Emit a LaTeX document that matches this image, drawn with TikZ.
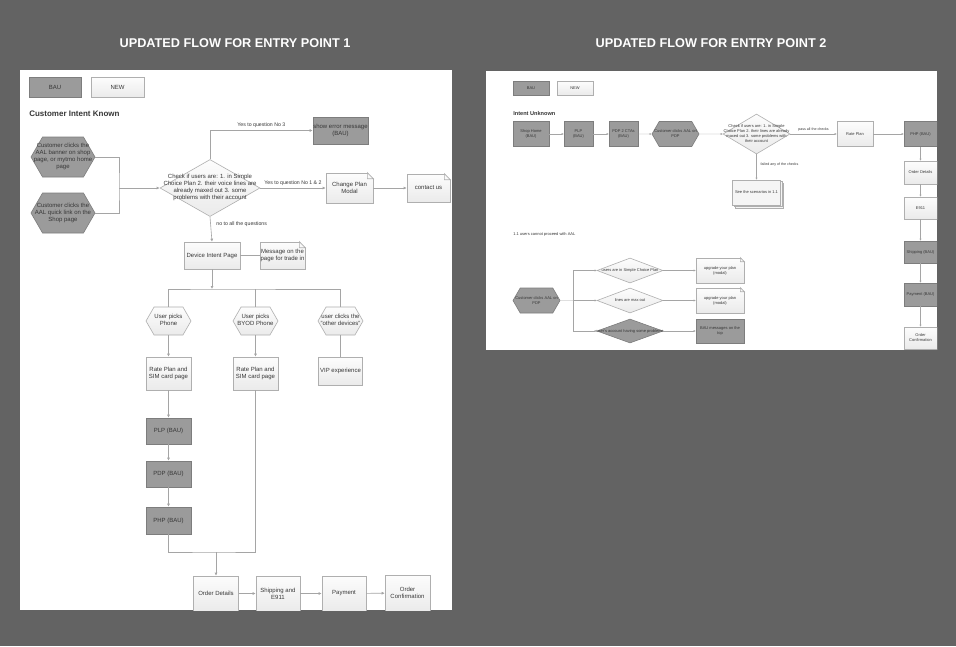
\documentclass[tikz,border=0pt]{standalone}
\usepackage{fontspec}
\setmainfont{Liberation Sans}
\usetikzlibrary{arrows.meta,shapes.geometric,shapes.symbols,shadows}
\definecolor{backc}{RGB}{99,99,99}
\definecolor{baufill}{RGB}{155,155,155}
\definecolor{baudraw}{RGB}{125,125,125}
\definecolor{newdraw}{RGB}{175,175,175}
\definecolor{linec}{RGB}{165,165,165}
\definecolor{textc}{RGB}{55,55,55}
\newcommand\wide[1]{\makebox[0pt]{\begin{tabular}{@{}c@{}}#1\end{tabular}}}
\newcommand\dogear[2]{%
  \fill[white] ([xshift=-#2,yshift=0.5pt]#1.north east) -- ([xshift=0.5pt,yshift=0.5pt]#1.north east) -- ([xshift=0.5pt,yshift=-#2]#1.north east) -- cycle;
  \draw[newdraw, fill=gray!5] ([xshift=-#2]#1.north east) -- ([xshift=-#2,yshift=-#2]#1.north east) -- ([yshift=-#2]#1.north east) -- cycle;}
\begin{document}
\begin{tikzpicture}[x=1pt, y=-1pt, line width=0.6pt,
  every node/.style={text=textc, align=center, inner sep=0pt},
  lf/.style={font=\fontsize{6}{7}\selectfont},
  rf/.style={font=\fontsize{4}{5}\selectfont},
  lbl/.style={font=\fontsize{5.2}{6}\selectfont},
  rlbl/.style={font=\fontsize{3.6}{4.5}\selectfont},
  sz/.style 2 args={minimum width=#1pt, minimum height=#2pt},
  bau/.style={draw=baudraw, fill=baufill},
  new/.style={draw=newdraw, top color=gray!2, bottom color=gray!16},
  hexa/.style={signal, signal to=east and west, signal pointer angle=120},
  ln/.style={draw=linec},
  arr/.style={draw=linec, -{Latex[length=3pt,width=3pt]}},
  rln/.style={draw=linec, line width=0.4pt},
  rarr/.style={draw=linec, line width=0.4pt, -{Latex[length=2pt,width=2pt]}}]
  \fill[backc] (0,0) rectangle (956,646);
  \fill[white] (20,70) rectangle (452,610);
  \fill[white] (486,71) rectangle (937,350);
  \node[font=\bfseries\fontsize{12.7}{14}\selectfont, text=white] (title1) at (235,43) {UPDATED FLOW FOR ENTRY POINT 1};
  \node[font=\bfseries\fontsize{12.7}{14}\selectfont, text=white] (title2) at (711,43) {UPDATED FLOW FOR ENTRY POINT 2};

  \begin{scope}[lf]
  \clip (20,70) rectangle (452,610);
  \node[bau, sz={52}{20}] (lbau) at (55,87) {BAU};
  \node[new, sz={53}{20}] (lnew) at (117.5,87) {NEW};
  \node[anchor=west, font=\bfseries\fontsize{8}{9}\selectfont] (lhead) at (29,114) {Customer Intent Known};
  \node[hexa, bau, sz={64}{40}] (aal1) at (63,157) {\wide{Customer clicks the\\AAL banner on shop\\page, or mytmo home\\page}};
  \node[hexa, bau, sz={64}{40}] (aal2) at (63,213) {\wide{Customer clicks the\\AAL quick link on the\\Shop page}};
  \coordinate (join1) at (119,188);
  \node[diamond, new, sz={100}{57}] (check) at (210,188) {\wide{Check if users are: 1. in Simple\\Choice Plan 2. their voice lines are\\already maxed out 3. some\\problems with their account}};
  \node[bau, sz={55}{27}] (err) at (340.5,130.5) {show error message\\(BAU)};
  \node[new, sz={47}{30}] (modal) at (349.5,188) {Change Plan\\Modal};
  \node[new, sz={43}{28}] (contact) at (428.5,188) {contact us};
  \node[new, sz={56}{27}] (intent) at (212,255.5) {Device Intent Page};
  \node[new, sz={45}{27}] (trade) at (282.5,255.5) {Message on the\\page for trade in};
  \dogear{modal}{6pt}
  \dogear{contact}{6pt}
  \dogear{trade}{6pt}
  \coordinate (split) at (212,289);
  \node[hexa, new, sz={45}{28}] (phone) at (168.5,321) {\wide{User picks\\Phone}};
  \node[hexa, new, sz={45}{28}] (byod) at (255.5,321) {\wide{User picks\\BYOD Phone}};
  \node[hexa, new, sz={45}{28}] (other) at (340.5,321) {\wide{user clicks the\\"other devices"}};
  \node[new, sz={45}{33}] (rate1) at (168.5,373.5) {Rate Plan and\\SIM card page};
  \node[new, sz={45}{33}] (rate2) at (255.5,373.5) {Rate Plan and\\SIM card page};
  \node[new, sz={44}{28}] (vip) at (340.5,371) {VIP experience};
  \node[bau, sz={45}{26}] (plp) at (168.5,431) {PLP (BAU)};
  \node[bau, sz={45}{26}] (pdp) at (168.5,474) {PDP (BAU)};
  \node[bau, sz={45}{27}] (php) at (168.5,520.5) {PHP (BAU)};
  \coordinate (merge) at (216,552);
  \node[new, sz={45}{35}] (details) at (216,593.5) {Order Details};
  \node[new, sz={44}{35}] (ship) at (278,593.5) {Shipping and\\E911};
  \node[new, sz={44}{35}] (pay) at (344,593.5) {Payment};
  \node[new, sz={45}{36}] (confirm) at (407.5,593) {Order\\Confirmation};

  \draw[ln] (aal1.east) -| (join1) |- (aal2.east);
  \draw[arr] (join1) -- (check.west);
  \draw[arr] (check.north) |- node[lbl, pos=0.75, above=2.5pt] (yes3) {Yes to question No 3} (err.west);
  \draw[arr] (check.east) -- node[lbl, above=2.5pt] (yes12) {Yes to question No 1 \& 2} (modal.west);
  \draw[arr] (modal) -- (contact);
  \draw[arr] (check.south) -- node[lbl, pos=0.3, right=5.5pt] (noall) {no to all the questions} (intent.north);
  \draw[ln] (intent) -- (trade);
  \draw[arr] (intent) -- (split);
  \draw[ln] (phone.north) |- (split) -| (other.north);
  \draw[ln] (byod.north) -- (byod.north |- split);
  \draw[arr] (phone) -- (rate1);
  \draw[arr] (byod) -- (rate2);
  \draw[ln] (other) -- (vip);
  \draw[arr] (rate1) -- (plp);
  \draw[arr] (plp) -- (pdp);
  \draw[arr] (pdp) -- (php);
  \draw[ln] (php.south) |- (merge) -| (rate2.south);
  \draw[arr] (merge) -- (details);
  \draw[arr] (details) -- (ship);
  \draw[arr] (ship) -- (pay);
  \draw[arr] (pay) -- (confirm);
  \end{scope}

  \begin{scope}[rf]
  \clip (486,71) rectangle (937,350);
  \node[bau, sz={36}{14}] (rbau) at (531,88) {BAU};
  \node[new, sz={36}{14}] (rnew) at (575,88) {NEW};
  \node[anchor=west, font=\bfseries\fontsize{5.6}{6.5}\selectfont] (rhead) at (513,113) {Intent Unknown};
  \node[bau, sz={36}{25}] (home) at (531,134) {Shop Home\\(BAU)};
  \node[bau, sz={29}{25}] (rplp) at (578.5,134) {PLP\\(BAU)};
  \node[bau, sz={29}{25}] (rpdp) at (623.5,134) {PDP 2 CTAs\\(BAU)};
  \node[hexa, bau, sz={47}{25}] (pdpaal) at (675.5,134) {\wide{Customer clicks AAL on\\PDP}};
  \node[diamond, new, sz={67}{40}] (rcheck) at (756.5,134) {\wide{Check if users are: 1. in Simple\\Choice Plan 2. their lines are already\\maxed out 3. some problems with\\their account}};
  \node[new, sz={36}{25}] (rrate) at (855,134) {Rate Plan};
  \node[bau, sz={33}{25}] (rphp) at (920.5,134) {PHP (BAU)};
  \node[new, sz={33}{23}] (rdetails) at (920.5,172.5) {Order Details};
  \node[new, sz={33}{22}] (e911) at (920.5,208) {E911};
  \node[bau, sz={33}{22}] (rship) at (920.5,252) {Shipping (BAU)};
  \node[bau, sz={33}{23}] (rpay) at (920.5,294.5) {Payment (BAU)};
  \node[new, sz={33}{22}] (rconfirm) at (920.5,338) {Order\\Confirmation};
  \node[draw=newdraw, fill=gray!8, double copy shadow={shadow xshift=1.5pt, shadow yshift=-1.5pt, fill=gray!8, draw=newdraw}, sz={48}{25}] (scen) at (756.5,192.5) {See the scenarios in 1.1};

  \draw[rarr] (home) -- (rplp);
  \draw[rarr] (rplp) -- (rpdp);
  \draw[rarr] (rpdp) -- (pdpaal);
  \draw[rarr] (pdpaal) -- (rcheck);
  \draw[rarr] (rcheck.east) -- node[rlbl, above=2.5pt] (passall) {pass all the checks} (rrate.west);
  \draw[rarr] (rrate) -- (rphp);
  \draw[rarr] (rcheck.south) -- node[rlbl, pos=0.4, right=4pt] (failed) {failed any of the checks} (scen.north);
  \draw[rarr] (rphp) -- (rdetails);
  \draw[rarr] (rdetails) -- (e911);
  \draw[rarr] (e911) -- (rship);
  \draw[rarr] (rship) -- (rpay);
  \draw[rarr] (rpay) -- (rconfirm);

  \node[anchor=west] (rsub) at (513,234) {1.1 users cannot proceed with AAL};
  \node[hexa, bau, sz={47}{25}] (pdpaal2) at (536.5,300.5) {\wide{Customer clicks AAL on\\PDP}};
  \coordinate (fork) at (573,300.5);
  \node[diamond, new, sz={66}{25}] (plan) at (630,270.5) {\wide{users are in Simple Choice Plan}};
  \node[diamond, new, sz={66}{25}] (maxed) at (630,300.5) {\wide{lines are max out}};
  \node[diamond, bau, sz={66}{24}] (problem) at (630,331) {\wide{user's account having some problems}};
  \node[new, sz={48}{25}] (upg1) at (720,270.5) {upgrade your plan\\(modal)};
  \node[new, sz={48}{25}] (upg2) at (720,300.5) {upgrade your plan\\(modal)};
  \node[bau, sz={48}{24}] (baumsg) at (720,331) {BAU messages on the\\top};
  \dogear{upg1}{4pt}
  \dogear{upg2}{4pt}

  \draw[rln] (pdpaal2) -- (fork);
  \draw[rarr] (fork) |- (plan.west);
  \draw[rarr] (fork) -- (maxed.west);
  \draw[rarr] (fork) |- (problem.west);
  \draw[rarr] (plan) -- (upg1);
  \draw[rarr] (maxed) -- (upg2);
  \draw[rarr] (problem) -- (baumsg);
  \end{scope}
\end{tikzpicture}
\end{document}
